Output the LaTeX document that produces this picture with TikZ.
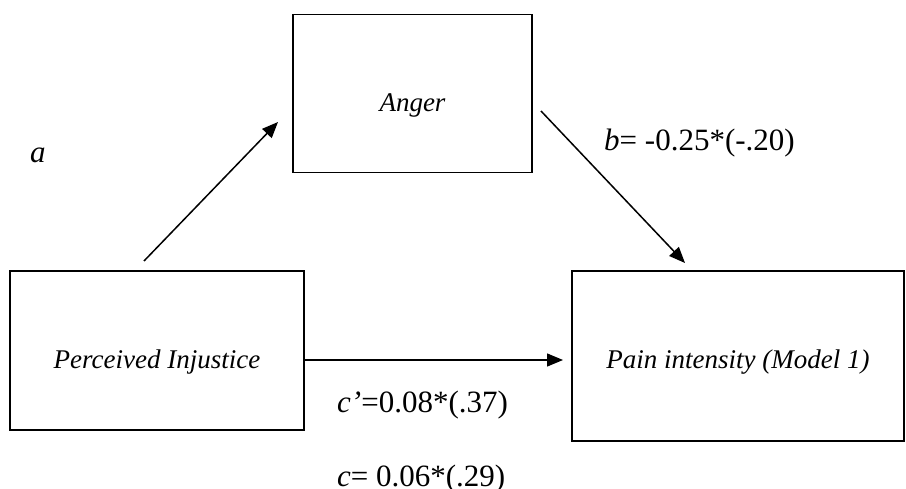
\documentclass[tikz,border=0pt]{standalone}
\usepackage{fontspec}
\setmainfont{Liberation Serif}
\usetikzlibrary{arrows.meta}
\begin{document}
\begin{tikzpicture}[x=1pt,y=-1pt,
  box/.style={draw=black,line width=1.6pt,inner sep=0pt,font=\fontsize{27}{30}\selectfont\itshape,text depth=0pt},
  conn/.style={line width=1.5pt,-{Triangle[length=16pt,width=13pt]}},
  elabel/.style={inner sep=0pt,font=\fontsize{31}{34}\selectfont}]
\useasboundingbox (0,0) rectangle (906,489);
\node[box,minimum width=239pt,minimum height=158pt,text height=37pt] (anger) at (412.5,93.5) {Anger};
\node[box,minimum width=294pt,minimum height=159pt,text height=37pt] (pi) at (157,350.5) {Perceived Injustice};
\node[box,minimum width=332pt,minimum height=170pt,text height=26pt] (pain) at (738,356) {Pain intensity (Model 1)};
\coordinate (aS) at (144,261);
\coordinate (aE) at (278,122);
\coordinate (bS) at (541,111);
\coordinate (bE) at (685,263);
\coordinate (cE) at (563,360);
\draw[conn] (aS) -- (aE);
\draw[conn] (bS) -- (bE);
\draw[conn] (pi.east |- cE) -- (cE);
\node[elabel] (la) at (38,155) {\textit{a}};
\node[elabel,anchor=west] (lb) at (604,143) {\textit{b}= -0.25*(-.20)};
\node[elabel,anchor=west] (lc1) at (337,405) {\textit{c'}=0.08*(.37)};
\node[elabel,anchor=west] (lc) at (337,479) {\textit{c}= 0.06*(.29)};
\end{tikzpicture}
\end{document}
